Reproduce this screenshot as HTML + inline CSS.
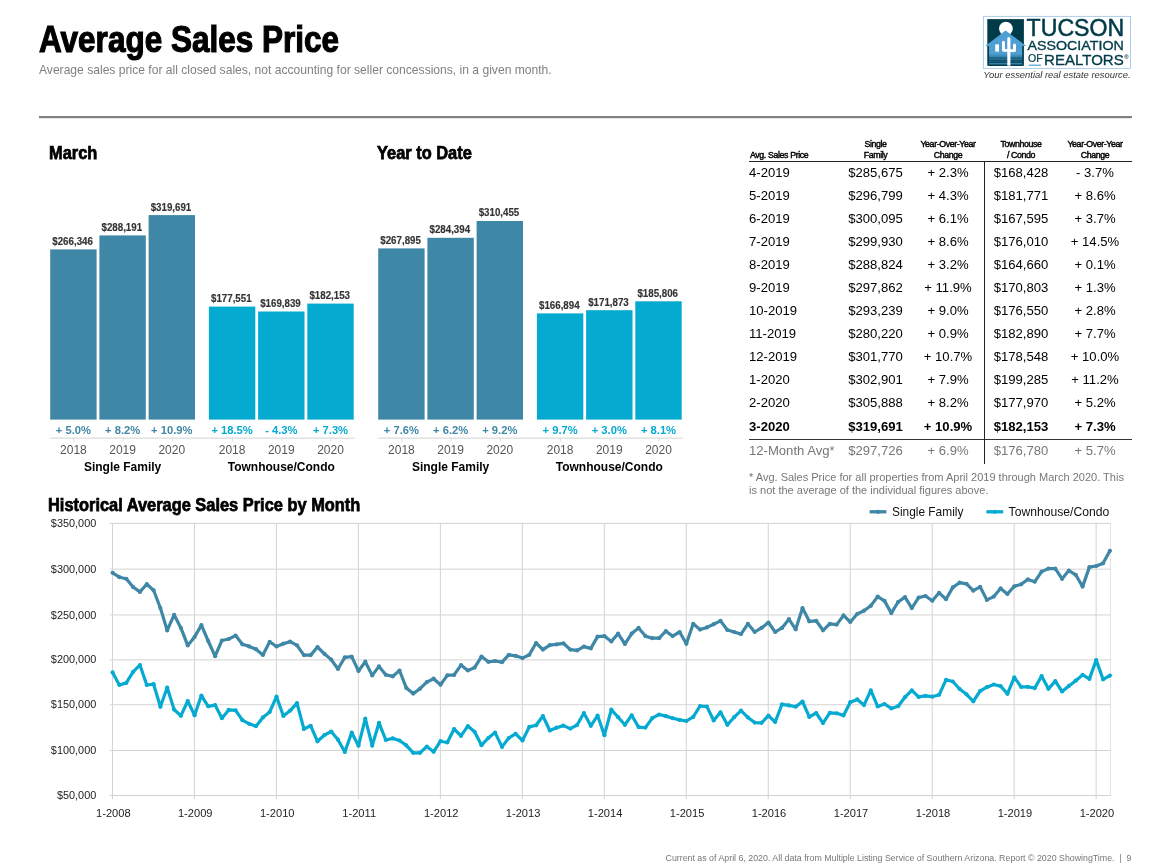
<!DOCTYPE html>
<html lang="en"><head><meta charset="utf-8"><title>Average Sales Price</title>
<style>
html,body{margin:0;padding:0;background:#fff;}
body{width:1161px;height:868px;position:relative;overflow:hidden;font-family:"Liberation Sans", Arial, Helvetica, sans-serif;color:#000;}
.abs{position:absolute;white-space:nowrap;}
.cond{font-weight:bold;transform-origin:0 0;display:inline-block;}
h1,h2,h3,p{margin:0;padding:0;font-weight:normal;}
#title{left:38.5px;top:14.5px;font-size:36.9px;line-height:50px;transform:scaleX(0.854);-webkit-text-stroke:1.2px #000;}
#subtitle{left:39px;top:62.8px;font-size:12.1px;line-height:14px;color:#808080;}
#rule{left:38.8px;top:116.15px;width:1092.9px;height:2.1px;background:#808080;}
.h2{font-size:18.6px;line-height:24px;transform:scaleX(0.882);-webkit-text-stroke:0.75px #000;}
#footer{right:29.5px;top:851.7px;font-size:8.82px;line-height:12px;color:#777;text-align:right;}
#footnote{left:749px;top:471.3px;font-size:11.03px;line-height:12.8px;color:#777;white-space:normal;width:381px;}
table{border-collapse:collapse;position:absolute;left:749px;top:136px;table-layout:fixed;width:383px;}
th{font-size:8.8px;line-height:10.5px;font-weight:normal;letter-spacing:-0.38px;vertical-align:bottom;padding:0 0 1px 0;text-align:center;-webkit-text-stroke:0.42px #000;}
th.l{padding-left:1px;}
th.l{text-align:left;}
td{font-size:13.1px;height:23px;line-height:23px;padding:0;text-align:center;white-space:nowrap;}
td.l{text-align:left;}
tr.b td{font-weight:bold;height:24px;line-height:25px;}
tr.g td{color:#777;height:24px;line-height:23.5px;}
svg text{font-family:"Liberation Sans", Arial, Helvetica, sans-serif;}

</style></head><body>
<h1 id="title" class="abs cond">Average Sales Price</h1>
<p id="subtitle" class="abs">Average sales price for all closed sales, not accounting for seller concessions, in a given month.</p>
<div id="rule" class="abs"></div><div class="abs" style="left:39px;top:118px;width:1092px;height:1px;background:#e2e2e2;"></div>
<h2 class="abs cond h2" style="left:49px;top:141.4px;">March</h2>
<h2 class="abs cond h2" style="left:377.3px;top:141.4px;">Year to Date</h2>
<h2 class="abs cond h2" style="left:48.3px;top:493px;">Historical Average Sales Price by Month</h2>
<svg class="abs" style="left:978px;top:10px;" width="160" height="75" viewBox="978 10 160 75">
<defs><linearGradient id="gnd" x1="0" y1="0" x2="0" y2="1"><stop offset="0" stop-color="#4f9fd2"/><stop offset="0.35" stop-color="#2f7ba3"/><stop offset="1" stop-color="#0b4a60"/></linearGradient></defs>
<rect x="983.3" y="16.3" width="147.3" height="52" fill="#fff" stroke="#8ab8dc" stroke-width="0.7"/>
<rect x="987.3" y="19.1" width="36.6" height="46.7" fill="#003b49"/>
<circle cx="1005.9" cy="28.6" r="6.9" fill="#fff"/>
<path d="M985.2 45.9 L1005.6 30.6 L1026.2 45.9 L1022.2 45.9 L1022.2 54 L989 54 L989 45.9 Z" fill="#4f9fd2"/>
<rect x="989" y="53.5" width="33.2" height="12.3" fill="url(#gnd)"/>
<rect x="989" y="57.6" width="33.2" height="0.9" fill="#0d4f66"/>
<rect x="989" y="60.2" width="33.2" height="1.0" fill="#0a4459"/>
<rect x="989" y="62.4" width="33.2" height="0.9" fill="#08404f"/>
<rect x="989" y="64.6" width="33.2" height="1.2" fill="#003b49"/>
<rect x="989" y="63.2" width="33.2" height="1.1" fill="#3f8fc4"/>
<rect x="995.2" y="44.4" width="3.8" height="7.2" fill="#fff"/>
<path d="M1007.3 65.8 L1007.3 38.6 Q1007.3 36.9 1008.85 36.9 Q1010.4 36.9 1010.4 38.6 L1010.4 49.3 L1013 49.3 L1013 45 Q1013 43.5 1014.5 43.5 Q1016 43.5 1016 45 L1016 50.2 Q1016 52.1 1014.2 52.1 L1010.4 52.1 L1010.4 65.8 Z M1007.3 51.8 L1003.9 51.8 Q1002 51.8 1002 49.9 L1002 42.2 Q1002 40.7 1003.45 40.7 Q1004.9 40.7 1004.9 42.2 L1004.9 49 L1007.3 49 Z" fill="#fff"/>
<text x="1026.6" y="36.4" font-size="23.2" stroke="#003b49" stroke-width="0.5" fill="#003b49" textLength="97.6" lengthAdjust="spacingAndGlyphs">TUCSON</text>
<text x="1027.5" y="49.8" font-size="13.4" stroke="#003b49" stroke-width="0.35" fill="#003b49" textLength="96.3" lengthAdjust="spacingAndGlyphs">ASSOCIATION</text>
<text x="1028" y="62.2" font-size="10.1" stroke="#003b49" stroke-width="0.2" fill="#003b49" textLength="14.6" lengthAdjust="spacingAndGlyphs">OF</text>
<rect x="1028.8" y="64.6" width="12.2" height="1.2" fill="#4f9fd2"/>
<text x="1044.1" y="65.4" font-size="15.3" stroke="#003b49" stroke-width="0.35" fill="#003b49" textLength="79.6" lengthAdjust="spacingAndGlyphs">REALTORS</text>
<text x="1124.2" y="59.2" font-size="6" font-weight="bold" fill="#003b49">®</text>
<text x="983.3" y="78" font-size="8.6" font-style="italic" fill="#333" textLength="147.3" lengthAdjust="spacingAndGlyphs">Your essential real estate resource.</text>
</svg>
<svg class="abs" style="left:0;top:180px;" width="720" height="300" viewBox="0 180 720 300">
<rect x="50.2" y="249.4" width="46.4" height="170.2" fill="#3f87a6"/>
<text x="72.6" y="244.8" font-size="10" font-weight="bold" fill="#333" stroke="#333" stroke-width="0.15" text-anchor="middle" textLength="40.6" lengthAdjust="spacingAndGlyphs">$266,346</text>
<text x="73.4" y="434.3" font-size="11.2" font-weight="bold" fill="#3f87a6" text-anchor="middle">+ 5.0%</text>
<text x="73.4" y="453.9" font-size="12" fill="#555" text-anchor="middle">2018</text>
<rect x="73.4" y="437.8" width="1" height="3.6" fill="#ddd"/>
<rect x="99.4" y="235.4" width="46.4" height="184.2" fill="#3f87a6"/>
<text x="121.8" y="230.8" font-size="10" font-weight="bold" fill="#333" stroke="#333" stroke-width="0.15" text-anchor="middle" textLength="40.6" lengthAdjust="spacingAndGlyphs">$288,191</text>
<text x="122.6" y="434.3" font-size="11.2" font-weight="bold" fill="#3f87a6" text-anchor="middle">+ 8.2%</text>
<text x="122.6" y="453.9" font-size="12" fill="#555" text-anchor="middle">2019</text>
<rect x="122.6" y="437.8" width="1" height="3.6" fill="#ddd"/>
<rect x="148.6" y="215.1" width="46.4" height="204.5" fill="#3f87a6"/>
<text x="171.0" y="210.5" font-size="10" font-weight="bold" fill="#333" stroke="#333" stroke-width="0.15" text-anchor="middle" textLength="40.6" lengthAdjust="spacingAndGlyphs">$319,691</text>
<text x="171.8" y="434.3" font-size="11.2" font-weight="bold" fill="#3f87a6" text-anchor="middle">+ 10.9%</text>
<text x="171.8" y="453.9" font-size="12" fill="#555" text-anchor="middle">2020</text>
<rect x="171.8" y="437.8" width="1" height="3.6" fill="#ddd"/>
<text x="122.6" y="471.4" font-size="12" font-weight="bold" fill="#000" text-anchor="middle">Single Family</text>
<rect x="208.9" y="306.6" width="46.4" height="113.0" fill="#05aad1"/>
<text x="231.3" y="302.0" font-size="10" font-weight="bold" fill="#333" stroke="#333" stroke-width="0.15" text-anchor="middle" textLength="40.6" lengthAdjust="spacingAndGlyphs">$177,551</text>
<text x="232.1" y="434.3" font-size="11.2" font-weight="bold" fill="#05aad1" text-anchor="middle">+ 18.5%</text>
<text x="232.1" y="453.9" font-size="12" fill="#555" text-anchor="middle">2018</text>
<rect x="232.1" y="437.8" width="1" height="3.6" fill="#ddd"/>
<rect x="258.1" y="311.5" width="46.4" height="108.1" fill="#05aad1"/>
<text x="280.5" y="306.9" font-size="10" font-weight="bold" fill="#333" stroke="#333" stroke-width="0.15" text-anchor="middle" textLength="40.6" lengthAdjust="spacingAndGlyphs">$169,839</text>
<text x="281.3" y="434.3" font-size="11.2" font-weight="bold" fill="#05aad1" text-anchor="middle">- 4.3%</text>
<text x="281.3" y="453.9" font-size="12" fill="#555" text-anchor="middle">2019</text>
<rect x="281.3" y="437.8" width="1" height="3.6" fill="#ddd"/>
<rect x="307.3" y="303.6" width="46.4" height="116.0" fill="#05aad1"/>
<text x="329.7" y="299.0" font-size="10" font-weight="bold" fill="#333" stroke="#333" stroke-width="0.15" text-anchor="middle" textLength="40.6" lengthAdjust="spacingAndGlyphs">$182,153</text>
<text x="330.5" y="434.3" font-size="11.2" font-weight="bold" fill="#05aad1" text-anchor="middle">+ 7.3%</text>
<text x="330.5" y="453.9" font-size="12" fill="#555" text-anchor="middle">2020</text>
<rect x="330.5" y="437.8" width="1" height="3.6" fill="#ddd"/>
<text x="281.3" y="471.4" font-size="12" font-weight="bold" fill="#000" text-anchor="middle">Townhouse/Condo</text>
<rect x="50.2" y="437.5" width="304" height="1.3" fill="#ddd"/>
<rect x="378.2" y="248.4" width="46.4" height="171.2" fill="#3f87a6"/>
<text x="400.6" y="243.8" font-size="10" font-weight="bold" fill="#333" stroke="#333" stroke-width="0.15" text-anchor="middle" textLength="40.6" lengthAdjust="spacingAndGlyphs">$267,895</text>
<text x="401.4" y="434.3" font-size="11.2" font-weight="bold" fill="#3f87a6" text-anchor="middle">+ 7.6%</text>
<text x="401.4" y="453.9" font-size="12" fill="#555" text-anchor="middle">2018</text>
<rect x="401.4" y="437.8" width="1" height="3.6" fill="#ddd"/>
<rect x="427.4" y="237.8" width="46.4" height="181.8" fill="#3f87a6"/>
<text x="449.8" y="233.2" font-size="10" font-weight="bold" fill="#333" stroke="#333" stroke-width="0.15" text-anchor="middle" textLength="40.6" lengthAdjust="spacingAndGlyphs">$284,394</text>
<text x="450.6" y="434.3" font-size="11.2" font-weight="bold" fill="#3f87a6" text-anchor="middle">+ 6.2%</text>
<text x="450.6" y="453.9" font-size="12" fill="#555" text-anchor="middle">2019</text>
<rect x="450.6" y="437.8" width="1" height="3.6" fill="#ddd"/>
<rect x="476.6" y="221.0" width="46.4" height="198.6" fill="#3f87a6"/>
<text x="499.0" y="216.4" font-size="10" font-weight="bold" fill="#333" stroke="#333" stroke-width="0.15" text-anchor="middle" textLength="40.6" lengthAdjust="spacingAndGlyphs">$310,455</text>
<text x="499.8" y="434.3" font-size="11.2" font-weight="bold" fill="#3f87a6" text-anchor="middle">+ 9.2%</text>
<text x="499.8" y="453.9" font-size="12" fill="#555" text-anchor="middle">2020</text>
<rect x="499.8" y="437.8" width="1" height="3.6" fill="#ddd"/>
<text x="450.6" y="471.4" font-size="12" font-weight="bold" fill="#000" text-anchor="middle">Single Family</text>
<rect x="536.9" y="313.4" width="46.4" height="106.2" fill="#05aad1"/>
<text x="559.3" y="308.8" font-size="10" font-weight="bold" fill="#333" stroke="#333" stroke-width="0.15" text-anchor="middle" textLength="40.6" lengthAdjust="spacingAndGlyphs">$166,894</text>
<text x="560.1" y="434.3" font-size="11.2" font-weight="bold" fill="#05aad1" text-anchor="middle">+ 9.7%</text>
<text x="560.1" y="453.9" font-size="12" fill="#555" text-anchor="middle">2018</text>
<rect x="560.1" y="437.8" width="1" height="3.6" fill="#ddd"/>
<rect x="586.1" y="310.2" width="46.4" height="109.4" fill="#05aad1"/>
<text x="608.5" y="305.6" font-size="10" font-weight="bold" fill="#333" stroke="#333" stroke-width="0.15" text-anchor="middle" textLength="40.6" lengthAdjust="spacingAndGlyphs">$171,873</text>
<text x="609.3" y="434.3" font-size="11.2" font-weight="bold" fill="#05aad1" text-anchor="middle">+ 3.0%</text>
<text x="609.3" y="453.9" font-size="12" fill="#555" text-anchor="middle">2019</text>
<rect x="609.3" y="437.8" width="1" height="3.6" fill="#ddd"/>
<rect x="635.3" y="301.3" width="46.4" height="118.3" fill="#05aad1"/>
<text x="657.7" y="296.7" font-size="10" font-weight="bold" fill="#333" stroke="#333" stroke-width="0.15" text-anchor="middle" textLength="40.6" lengthAdjust="spacingAndGlyphs">$185,806</text>
<text x="658.5" y="434.3" font-size="11.2" font-weight="bold" fill="#05aad1" text-anchor="middle">+ 8.1%</text>
<text x="658.5" y="453.9" font-size="12" fill="#555" text-anchor="middle">2020</text>
<rect x="658.5" y="437.8" width="1" height="3.6" fill="#ddd"/>
<text x="609.3" y="471.4" font-size="12" font-weight="bold" fill="#000" text-anchor="middle">Townhouse/Condo</text>
<rect x="378.2" y="437.5" width="304" height="1.3" fill="#ddd"/>
</svg>
<table>
<colgroup><col style="width:90px"><col style="width:73px"><col style="width:72px"><col style="width:74px"><col style="width:74px"></colgroup>
<thead><tr style="height:25px"><th class="l">Avg. Sales Price</th><th>Single<br>Family</th><th>Year-Over-Year<br>Change</th><th>Townhouse<br>/ Condo</th><th>Year-Over-Year<br>Change</th></tr></thead>
<tbody>
<tr><td class="l">4-2019</td><td>$285,675</td><td>+ 2.3%</td><td>$168,428</td><td>- 3.7%</td></tr>
<tr><td class="l">5-2019</td><td>$296,799</td><td>+ 4.3%</td><td>$181,771</td><td>+ 8.6%</td></tr>
<tr><td class="l">6-2019</td><td>$300,095</td><td>+ 6.1%</td><td>$167,595</td><td>+ 3.7%</td></tr>
<tr><td class="l">7-2019</td><td>$299,930</td><td>+ 8.6%</td><td>$176,010</td><td>+ 14.5%</td></tr>
<tr><td class="l">8-2019</td><td>$288,824</td><td>+ 3.2%</td><td>$164,660</td><td>+ 0.1%</td></tr>
<tr><td class="l">9-2019</td><td>$297,862</td><td>+ 11.9%</td><td>$170,803</td><td>+ 1.3%</td></tr>
<tr><td class="l">10-2019</td><td>$293,239</td><td>+ 9.0%</td><td>$176,550</td><td>+ 2.8%</td></tr>
<tr><td class="l">11-2019</td><td>$280,220</td><td>+ 0.9%</td><td>$182,890</td><td>+ 7.7%</td></tr>
<tr><td class="l">12-2019</td><td>$301,770</td><td>+ 10.7%</td><td>$178,548</td><td>+ 10.0%</td></tr>
<tr><td class="l">1-2020</td><td>$302,901</td><td>+ 7.9%</td><td>$199,285</td><td>+ 11.2%</td></tr>
<tr><td class="l">2-2020</td><td>$305,888</td><td>+ 8.2%</td><td>$177,970</td><td>+ 5.2%</td></tr>
<tr class="b"><td class="l">3-2020</td><td>$319,691</td><td>+ 10.9%</td><td>$182,153</td><td>+ 7.3%</td></tr>
<tr class="g"><td class="l">12-Month Avg*</td><td>$297,726</td><td>+ 6.9%</td><td>$176,780</td><td>+ 5.7%</td></tr>
</tbody></table>
<div class="abs" style="left:749px;top:161.3px;width:90px;height:1px;background:#222;"></div><div class="abs" style="left:838.5px;top:161.2px;width:293px;height:1.3px;background:#222;"></div>
<div class="abs" style="left:749px;top:438.5px;width:382.5px;height:1.5px;background:#333;"></div>
<div class="abs" style="left:983.7px;top:162px;width:1.3px;height:302px;background:#222;"></div>
<p id="footnote" class="abs">* Avg. Sales Price for all properties from April 2019 through March 2020. This is not the average of the individual figures above.</p>
<svg class="abs" style="left:0;top:500px;" width="1161" height="340" viewBox="0 500 1161 340">
<rect x="109.8" y="522.90" width="1001.1" height="1" fill="#d3d3d3"/>
<text x="96.3" y="526.9" font-size="10.9" fill="#222" text-anchor="end">$350,000</text>
<rect x="109.8" y="568.65" width="1001.1" height="1" fill="#d3d3d3"/>
<text x="96.3" y="572.6" font-size="10.9" fill="#222" text-anchor="end">$300,000</text>
<rect x="109.8" y="614.45" width="1001.1" height="1" fill="#d3d3d3"/>
<text x="96.3" y="618.5" font-size="10.9" fill="#222" text-anchor="end">$250,000</text>
<rect x="109.8" y="659.40" width="1001.1" height="1" fill="#d3d3d3"/>
<text x="96.3" y="663.4" font-size="10.9" fill="#222" text-anchor="end">$200,000</text>
<rect x="109.8" y="704.25" width="1001.1" height="1" fill="#d3d3d3"/>
<text x="96.3" y="708.2" font-size="10.9" fill="#222" text-anchor="end">$150,000</text>
<rect x="109.8" y="750.00" width="1001.1" height="1" fill="#d3d3d3"/>
<text x="96.3" y="754.0" font-size="10.9" fill="#222" text-anchor="end">$100,000</text>
<rect x="109.8" y="794.97" width="1001.1" height="1" fill="#d3d3d3"/>
<text x="96.3" y="799.0" font-size="10.9" fill="#222" text-anchor="end">$50,000</text>
<rect x="111.97" y="522.9" width="1" height="276.2" fill="#d3d3d3"/>
<text x="113.3" y="816.9" font-size="11.1" fill="#222" text-anchor="middle">1-2008</text>
<rect x="193.94" y="522.9" width="1" height="276.2" fill="#d3d3d3"/>
<text x="195.2" y="816.9" font-size="11.1" fill="#222" text-anchor="middle">1-2009</text>
<rect x="275.91" y="522.9" width="1" height="276.2" fill="#d3d3d3"/>
<text x="277.2" y="816.9" font-size="11.1" fill="#222" text-anchor="middle">1-2010</text>
<rect x="357.88" y="522.9" width="1" height="276.2" fill="#d3d3d3"/>
<text x="359.2" y="816.9" font-size="11.1" fill="#222" text-anchor="middle">1-2011</text>
<rect x="439.85" y="522.9" width="1" height="276.2" fill="#d3d3d3"/>
<text x="441.2" y="816.9" font-size="11.1" fill="#222" text-anchor="middle">1-2012</text>
<rect x="521.82" y="522.9" width="1" height="276.2" fill="#d3d3d3"/>
<text x="523.1" y="816.9" font-size="11.1" fill="#222" text-anchor="middle">1-2013</text>
<rect x="603.79" y="522.9" width="1" height="276.2" fill="#d3d3d3"/>
<text x="605.1" y="816.9" font-size="11.1" fill="#222" text-anchor="middle">1-2014</text>
<rect x="685.76" y="522.9" width="1" height="276.2" fill="#d3d3d3"/>
<text x="687.1" y="816.9" font-size="11.1" fill="#222" text-anchor="middle">1-2015</text>
<rect x="767.73" y="522.9" width="1" height="276.2" fill="#d3d3d3"/>
<text x="769.0" y="816.9" font-size="11.1" fill="#222" text-anchor="middle">1-2016</text>
<rect x="849.70" y="522.9" width="1" height="276.2" fill="#d3d3d3"/>
<text x="851.0" y="816.9" font-size="11.1" fill="#222" text-anchor="middle">1-2017</text>
<rect x="931.67" y="522.9" width="1" height="276.2" fill="#d3d3d3"/>
<text x="933.0" y="816.9" font-size="11.1" fill="#222" text-anchor="middle">1-2018</text>
<rect x="1013.64" y="522.9" width="1" height="276.2" fill="#d3d3d3"/>
<text x="1014.9" y="816.9" font-size="11.1" fill="#222" text-anchor="middle">1-2019</text>
<rect x="1095.61" y="522.9" width="1" height="276.2" fill="#d3d3d3"/>
<text x="1096.9" y="816.9" font-size="11.1" fill="#222" text-anchor="middle">1-2020</text>
<rect x="1110.00" y="522.9" width="0.8" height="273.1" fill="#dcdcdc"/>
<polyline points="112.6,572.8 119.4,577.2 126.3,578.8 133.1,587.0 139.9,591.9 146.8,584.2 153.6,590.3 160.4,608.0 167.2,630.4 174.1,614.8 180.9,627.9 187.7,645.4 194.6,636.9 201.4,625.1 208.2,641.0 215.1,656.2 221.9,640.5 228.7,639.0 235.6,635.6 242.4,644.3 249.2,646.4 256.0,649.2 262.9,654.9 269.7,641.8 276.5,646.5 283.4,643.7 290.2,641.6 297.0,645.3 303.9,655.1 310.7,655.1 317.5,647.0 324.4,653.8 331.2,659.6 338.0,669.0 344.8,657.4 351.7,656.6 358.5,671.0 365.3,661.7 372.2,675.4 379.0,666.4 385.8,674.8 392.7,676.4 399.5,670.5 406.3,687.9 413.2,693.6 420.0,688.7 426.8,682.1 433.6,678.7 440.5,684.7 447.3,675.4 454.1,674.9 461.0,665.1 467.8,670.5 474.6,667.6 481.5,656.6 488.3,661.8 495.1,661.0 502.0,662.2 508.8,654.8 515.6,655.8 522.5,658.1 529.3,654.8 536.1,643.0 542.9,649.6 549.8,645.1 556.6,644.3 563.4,643.3 570.3,649.6 577.1,650.4 583.9,646.6 590.8,648.4 597.6,636.6 604.4,636.1 611.3,641.5 618.1,633.6 624.9,644.0 631.7,633.6 638.6,627.9 645.4,636.1 652.2,638.2 659.1,638.2 665.9,631.2 672.7,636.1 679.6,632.0 686.4,643.8 693.2,623.8 700.1,629.6 706.9,627.4 713.7,624.2 720.5,620.9 727.4,630.0 734.2,632.0 741.0,634.1 747.9,623.8 754.7,632.0 761.5,627.9 768.4,622.5 775.2,632.0 782.0,627.9 788.9,619.2 795.7,629.3 802.5,608.1 809.3,621.3 816.2,620.8 823.0,630.3 829.8,623.8 836.7,624.6 843.5,615.4 850.3,622.0 857.2,614.0 864.0,610.7 870.8,605.8 877.7,596.6 884.5,600.9 891.3,613.1 898.1,602.0 905.0,597.1 911.8,608.1 918.6,597.6 925.5,596.0 932.3,600.7 939.1,592.8 946.0,599.2 952.8,587.4 959.6,582.7 966.5,583.8 973.3,590.7 980.1,586.8 986.9,599.9 993.8,596.6 1000.6,588.4 1007.4,594.0 1014.3,586.3 1021.1,584.3 1027.9,579.4 1034.8,581.7 1041.6,571.6 1048.4,568.6 1055.3,568.7 1062.1,578.8 1068.9,570.6 1075.7,574.8 1082.6,586.6 1089.4,567.1 1096.2,566.0 1103.1,563.3 1109.9,550.8" fill="none" stroke="#3f87a6" stroke-width="3.2" stroke-linejoin="round" stroke-linecap="round"/>
<g fill="#3f87a6"><circle cx="112.6" cy="572.8" r="2.1"/><circle cx="119.4" cy="577.2" r="2.1"/><circle cx="126.3" cy="578.8" r="2.1"/><circle cx="133.1" cy="587.0" r="2.1"/><circle cx="139.9" cy="591.9" r="2.1"/><circle cx="146.8" cy="584.2" r="2.1"/><circle cx="153.6" cy="590.3" r="2.1"/><circle cx="160.4" cy="608.0" r="2.1"/><circle cx="167.2" cy="630.4" r="2.1"/><circle cx="174.1" cy="614.8" r="2.1"/><circle cx="180.9" cy="627.9" r="2.1"/><circle cx="187.7" cy="645.4" r="2.1"/><circle cx="194.6" cy="636.9" r="2.1"/><circle cx="201.4" cy="625.1" r="2.1"/><circle cx="208.2" cy="641.0" r="2.1"/><circle cx="215.1" cy="656.2" r="2.1"/><circle cx="221.9" cy="640.5" r="2.1"/><circle cx="228.7" cy="639.0" r="2.1"/><circle cx="235.6" cy="635.6" r="2.1"/><circle cx="242.4" cy="644.3" r="2.1"/><circle cx="249.2" cy="646.4" r="2.1"/><circle cx="256.0" cy="649.2" r="2.1"/><circle cx="262.9" cy="654.9" r="2.1"/><circle cx="269.7" cy="641.8" r="2.1"/><circle cx="276.5" cy="646.5" r="2.1"/><circle cx="283.4" cy="643.7" r="2.1"/><circle cx="290.2" cy="641.6" r="2.1"/><circle cx="297.0" cy="645.3" r="2.1"/><circle cx="303.9" cy="655.1" r="2.1"/><circle cx="310.7" cy="655.1" r="2.1"/><circle cx="317.5" cy="647.0" r="2.1"/><circle cx="324.4" cy="653.8" r="2.1"/><circle cx="331.2" cy="659.6" r="2.1"/><circle cx="338.0" cy="669.0" r="2.1"/><circle cx="344.8" cy="657.4" r="2.1"/><circle cx="351.7" cy="656.6" r="2.1"/><circle cx="358.5" cy="671.0" r="2.1"/><circle cx="365.3" cy="661.7" r="2.1"/><circle cx="372.2" cy="675.4" r="2.1"/><circle cx="379.0" cy="666.4" r="2.1"/><circle cx="385.8" cy="674.8" r="2.1"/><circle cx="392.7" cy="676.4" r="2.1"/><circle cx="399.5" cy="670.5" r="2.1"/><circle cx="406.3" cy="687.9" r="2.1"/><circle cx="413.2" cy="693.6" r="2.1"/><circle cx="420.0" cy="688.7" r="2.1"/><circle cx="426.8" cy="682.1" r="2.1"/><circle cx="433.6" cy="678.7" r="2.1"/><circle cx="440.5" cy="684.7" r="2.1"/><circle cx="447.3" cy="675.4" r="2.1"/><circle cx="454.1" cy="674.9" r="2.1"/><circle cx="461.0" cy="665.1" r="2.1"/><circle cx="467.8" cy="670.5" r="2.1"/><circle cx="474.6" cy="667.6" r="2.1"/><circle cx="481.5" cy="656.6" r="2.1"/><circle cx="488.3" cy="661.8" r="2.1"/><circle cx="495.1" cy="661.0" r="2.1"/><circle cx="502.0" cy="662.2" r="2.1"/><circle cx="508.8" cy="654.8" r="2.1"/><circle cx="515.6" cy="655.8" r="2.1"/><circle cx="522.5" cy="658.1" r="2.1"/><circle cx="529.3" cy="654.8" r="2.1"/><circle cx="536.1" cy="643.0" r="2.1"/><circle cx="542.9" cy="649.6" r="2.1"/><circle cx="549.8" cy="645.1" r="2.1"/><circle cx="556.6" cy="644.3" r="2.1"/><circle cx="563.4" cy="643.3" r="2.1"/><circle cx="570.3" cy="649.6" r="2.1"/><circle cx="577.1" cy="650.4" r="2.1"/><circle cx="583.9" cy="646.6" r="2.1"/><circle cx="590.8" cy="648.4" r="2.1"/><circle cx="597.6" cy="636.6" r="2.1"/><circle cx="604.4" cy="636.1" r="2.1"/><circle cx="611.3" cy="641.5" r="2.1"/><circle cx="618.1" cy="633.6" r="2.1"/><circle cx="624.9" cy="644.0" r="2.1"/><circle cx="631.7" cy="633.6" r="2.1"/><circle cx="638.6" cy="627.9" r="2.1"/><circle cx="645.4" cy="636.1" r="2.1"/><circle cx="652.2" cy="638.2" r="2.1"/><circle cx="659.1" cy="638.2" r="2.1"/><circle cx="665.9" cy="631.2" r="2.1"/><circle cx="672.7" cy="636.1" r="2.1"/><circle cx="679.6" cy="632.0" r="2.1"/><circle cx="686.4" cy="643.8" r="2.1"/><circle cx="693.2" cy="623.8" r="2.1"/><circle cx="700.1" cy="629.6" r="2.1"/><circle cx="706.9" cy="627.4" r="2.1"/><circle cx="713.7" cy="624.2" r="2.1"/><circle cx="720.5" cy="620.9" r="2.1"/><circle cx="727.4" cy="630.0" r="2.1"/><circle cx="734.2" cy="632.0" r="2.1"/><circle cx="741.0" cy="634.1" r="2.1"/><circle cx="747.9" cy="623.8" r="2.1"/><circle cx="754.7" cy="632.0" r="2.1"/><circle cx="761.5" cy="627.9" r="2.1"/><circle cx="768.4" cy="622.5" r="2.1"/><circle cx="775.2" cy="632.0" r="2.1"/><circle cx="782.0" cy="627.9" r="2.1"/><circle cx="788.9" cy="619.2" r="2.1"/><circle cx="795.7" cy="629.3" r="2.1"/><circle cx="802.5" cy="608.1" r="2.1"/><circle cx="809.3" cy="621.3" r="2.1"/><circle cx="816.2" cy="620.8" r="2.1"/><circle cx="823.0" cy="630.3" r="2.1"/><circle cx="829.8" cy="623.8" r="2.1"/><circle cx="836.7" cy="624.6" r="2.1"/><circle cx="843.5" cy="615.4" r="2.1"/><circle cx="850.3" cy="622.0" r="2.1"/><circle cx="857.2" cy="614.0" r="2.1"/><circle cx="864.0" cy="610.7" r="2.1"/><circle cx="870.8" cy="605.8" r="2.1"/><circle cx="877.7" cy="596.6" r="2.1"/><circle cx="884.5" cy="600.9" r="2.1"/><circle cx="891.3" cy="613.1" r="2.1"/><circle cx="898.1" cy="602.0" r="2.1"/><circle cx="905.0" cy="597.1" r="2.1"/><circle cx="911.8" cy="608.1" r="2.1"/><circle cx="918.6" cy="597.6" r="2.1"/><circle cx="925.5" cy="596.0" r="2.1"/><circle cx="932.3" cy="600.7" r="2.1"/><circle cx="939.1" cy="592.8" r="2.1"/><circle cx="946.0" cy="599.2" r="2.1"/><circle cx="952.8" cy="587.4" r="2.1"/><circle cx="959.6" cy="582.7" r="2.1"/><circle cx="966.5" cy="583.8" r="2.1"/><circle cx="973.3" cy="590.7" r="2.1"/><circle cx="980.1" cy="586.8" r="2.1"/><circle cx="986.9" cy="599.9" r="2.1"/><circle cx="993.8" cy="596.6" r="2.1"/><circle cx="1000.6" cy="588.4" r="2.1"/><circle cx="1007.4" cy="594.0" r="2.1"/><circle cx="1014.3" cy="586.3" r="2.1"/><circle cx="1021.1" cy="584.3" r="2.1"/><circle cx="1027.9" cy="579.4" r="2.1"/><circle cx="1034.8" cy="581.7" r="2.1"/><circle cx="1041.6" cy="571.6" r="2.1"/><circle cx="1048.4" cy="568.6" r="2.1"/><circle cx="1055.3" cy="568.7" r="2.1"/><circle cx="1062.1" cy="578.8" r="2.1"/><circle cx="1068.9" cy="570.6" r="2.1"/><circle cx="1075.7" cy="574.8" r="2.1"/><circle cx="1082.6" cy="586.6" r="2.1"/><circle cx="1089.4" cy="567.1" r="2.1"/><circle cx="1096.2" cy="566.0" r="2.1"/><circle cx="1103.1" cy="563.3" r="2.1"/><circle cx="1109.9" cy="550.8" r="2.1"/></g>
<polyline points="112.6,672.4 119.4,685.0 126.3,682.9 133.1,671.9 139.9,665.0 146.8,685.0 153.6,684.2 160.4,706.8 167.2,687.5 174.1,709.6 180.9,715.8 187.7,701.0 194.6,715.3 201.4,695.6 208.2,706.3 215.1,705.1 221.9,718.2 228.7,709.9 235.6,710.4 242.4,720.2 249.2,723.8 256.0,726.2 262.9,717.4 269.7,712.0 276.5,696.6 283.4,716.0 290.2,710.6 297.0,703.2 303.9,729.0 310.7,725.8 317.5,741.3 324.4,735.1 331.2,731.5 338.0,739.7 344.8,752.0 351.7,732.6 358.5,745.7 365.3,718.7 372.2,745.7 379.0,722.8 385.8,740.0 392.7,738.4 399.5,740.5 406.3,745.4 413.2,752.8 420.0,752.8 426.8,746.6 433.6,751.8 440.5,741.2 447.3,742.5 454.1,729.0 461.0,735.9 467.8,726.1 474.6,731.8 481.5,745.2 488.3,738.0 495.1,732.6 502.0,746.9 508.8,738.0 515.6,733.8 522.5,740.5 529.3,726.9 536.1,725.3 542.9,716.0 549.8,730.5 556.6,727.7 563.4,725.6 570.3,728.6 577.1,725.0 583.9,713.0 590.8,725.8 597.6,715.6 604.4,735.2 611.3,709.6 618.1,717.2 624.9,724.8 631.7,715.3 638.6,727.1 645.4,727.6 652.2,718.2 659.1,714.5 665.9,716.1 672.7,718.2 679.6,719.9 686.4,721.0 693.2,716.9 700.1,706.0 706.9,706.6 713.7,720.5 720.5,712.3 727.4,724.8 734.2,717.2 741.0,710.7 747.9,717.4 754.7,722.6 761.5,722.8 768.4,715.7 775.2,722.0 782.0,704.3 788.9,705.4 795.7,706.7 802.5,701.5 809.3,716.9 816.2,713.0 823.0,723.1 829.8,712.8 836.7,713.3 843.5,715.4 850.3,702.2 857.2,699.4 864.0,705.1 870.8,690.4 877.7,706.4 884.5,704.0 891.3,708.4 898.1,706.2 905.0,697.2 911.8,690.4 918.6,696.9 925.5,695.8 932.3,696.7 939.1,694.8 946.0,679.8 952.8,681.5 959.6,689.0 966.5,694.3 973.3,701.3 980.1,691.0 986.9,687.2 993.8,684.5 1000.6,686.1 1007.4,693.8 1014.3,677.4 1021.1,686.9 1027.9,686.8 1034.8,688.1 1041.6,676.0 1048.4,688.8 1055.3,681.2 1062.1,691.5 1068.9,685.9 1075.7,680.7 1082.6,674.9 1089.4,678.9 1096.2,660.1 1103.1,679.4 1109.9,675.6" fill="none" stroke="#05aad1" stroke-width="3.2" stroke-linejoin="round" stroke-linecap="round"/>
<g fill="#05aad1"><circle cx="112.6" cy="672.4" r="2.1"/><circle cx="119.4" cy="685.0" r="2.1"/><circle cx="126.3" cy="682.9" r="2.1"/><circle cx="133.1" cy="671.9" r="2.1"/><circle cx="139.9" cy="665.0" r="2.1"/><circle cx="146.8" cy="685.0" r="2.1"/><circle cx="153.6" cy="684.2" r="2.1"/><circle cx="160.4" cy="706.8" r="2.1"/><circle cx="167.2" cy="687.5" r="2.1"/><circle cx="174.1" cy="709.6" r="2.1"/><circle cx="180.9" cy="715.8" r="2.1"/><circle cx="187.7" cy="701.0" r="2.1"/><circle cx="194.6" cy="715.3" r="2.1"/><circle cx="201.4" cy="695.6" r="2.1"/><circle cx="208.2" cy="706.3" r="2.1"/><circle cx="215.1" cy="705.1" r="2.1"/><circle cx="221.9" cy="718.2" r="2.1"/><circle cx="228.7" cy="709.9" r="2.1"/><circle cx="235.6" cy="710.4" r="2.1"/><circle cx="242.4" cy="720.2" r="2.1"/><circle cx="249.2" cy="723.8" r="2.1"/><circle cx="256.0" cy="726.2" r="2.1"/><circle cx="262.9" cy="717.4" r="2.1"/><circle cx="269.7" cy="712.0" r="2.1"/><circle cx="276.5" cy="696.6" r="2.1"/><circle cx="283.4" cy="716.0" r="2.1"/><circle cx="290.2" cy="710.6" r="2.1"/><circle cx="297.0" cy="703.2" r="2.1"/><circle cx="303.9" cy="729.0" r="2.1"/><circle cx="310.7" cy="725.8" r="2.1"/><circle cx="317.5" cy="741.3" r="2.1"/><circle cx="324.4" cy="735.1" r="2.1"/><circle cx="331.2" cy="731.5" r="2.1"/><circle cx="338.0" cy="739.7" r="2.1"/><circle cx="344.8" cy="752.0" r="2.1"/><circle cx="351.7" cy="732.6" r="2.1"/><circle cx="358.5" cy="745.7" r="2.1"/><circle cx="365.3" cy="718.7" r="2.1"/><circle cx="372.2" cy="745.7" r="2.1"/><circle cx="379.0" cy="722.8" r="2.1"/><circle cx="385.8" cy="740.0" r="2.1"/><circle cx="392.7" cy="738.4" r="2.1"/><circle cx="399.5" cy="740.5" r="2.1"/><circle cx="406.3" cy="745.4" r="2.1"/><circle cx="413.2" cy="752.8" r="2.1"/><circle cx="420.0" cy="752.8" r="2.1"/><circle cx="426.8" cy="746.6" r="2.1"/><circle cx="433.6" cy="751.8" r="2.1"/><circle cx="440.5" cy="741.2" r="2.1"/><circle cx="447.3" cy="742.5" r="2.1"/><circle cx="454.1" cy="729.0" r="2.1"/><circle cx="461.0" cy="735.9" r="2.1"/><circle cx="467.8" cy="726.1" r="2.1"/><circle cx="474.6" cy="731.8" r="2.1"/><circle cx="481.5" cy="745.2" r="2.1"/><circle cx="488.3" cy="738.0" r="2.1"/><circle cx="495.1" cy="732.6" r="2.1"/><circle cx="502.0" cy="746.9" r="2.1"/><circle cx="508.8" cy="738.0" r="2.1"/><circle cx="515.6" cy="733.8" r="2.1"/><circle cx="522.5" cy="740.5" r="2.1"/><circle cx="529.3" cy="726.9" r="2.1"/><circle cx="536.1" cy="725.3" r="2.1"/><circle cx="542.9" cy="716.0" r="2.1"/><circle cx="549.8" cy="730.5" r="2.1"/><circle cx="556.6" cy="727.7" r="2.1"/><circle cx="563.4" cy="725.6" r="2.1"/><circle cx="570.3" cy="728.6" r="2.1"/><circle cx="577.1" cy="725.0" r="2.1"/><circle cx="583.9" cy="713.0" r="2.1"/><circle cx="590.8" cy="725.8" r="2.1"/><circle cx="597.6" cy="715.6" r="2.1"/><circle cx="604.4" cy="735.2" r="2.1"/><circle cx="611.3" cy="709.6" r="2.1"/><circle cx="618.1" cy="717.2" r="2.1"/><circle cx="624.9" cy="724.8" r="2.1"/><circle cx="631.7" cy="715.3" r="2.1"/><circle cx="638.6" cy="727.1" r="2.1"/><circle cx="645.4" cy="727.6" r="2.1"/><circle cx="652.2" cy="718.2" r="2.1"/><circle cx="659.1" cy="714.5" r="2.1"/><circle cx="665.9" cy="716.1" r="2.1"/><circle cx="672.7" cy="718.2" r="2.1"/><circle cx="679.6" cy="719.9" r="2.1"/><circle cx="686.4" cy="721.0" r="2.1"/><circle cx="693.2" cy="716.9" r="2.1"/><circle cx="700.1" cy="706.0" r="2.1"/><circle cx="706.9" cy="706.6" r="2.1"/><circle cx="713.7" cy="720.5" r="2.1"/><circle cx="720.5" cy="712.3" r="2.1"/><circle cx="727.4" cy="724.8" r="2.1"/><circle cx="734.2" cy="717.2" r="2.1"/><circle cx="741.0" cy="710.7" r="2.1"/><circle cx="747.9" cy="717.4" r="2.1"/><circle cx="754.7" cy="722.6" r="2.1"/><circle cx="761.5" cy="722.8" r="2.1"/><circle cx="768.4" cy="715.7" r="2.1"/><circle cx="775.2" cy="722.0" r="2.1"/><circle cx="782.0" cy="704.3" r="2.1"/><circle cx="788.9" cy="705.4" r="2.1"/><circle cx="795.7" cy="706.7" r="2.1"/><circle cx="802.5" cy="701.5" r="2.1"/><circle cx="809.3" cy="716.9" r="2.1"/><circle cx="816.2" cy="713.0" r="2.1"/><circle cx="823.0" cy="723.1" r="2.1"/><circle cx="829.8" cy="712.8" r="2.1"/><circle cx="836.7" cy="713.3" r="2.1"/><circle cx="843.5" cy="715.4" r="2.1"/><circle cx="850.3" cy="702.2" r="2.1"/><circle cx="857.2" cy="699.4" r="2.1"/><circle cx="864.0" cy="705.1" r="2.1"/><circle cx="870.8" cy="690.4" r="2.1"/><circle cx="877.7" cy="706.4" r="2.1"/><circle cx="884.5" cy="704.0" r="2.1"/><circle cx="891.3" cy="708.4" r="2.1"/><circle cx="898.1" cy="706.2" r="2.1"/><circle cx="905.0" cy="697.2" r="2.1"/><circle cx="911.8" cy="690.4" r="2.1"/><circle cx="918.6" cy="696.9" r="2.1"/><circle cx="925.5" cy="695.8" r="2.1"/><circle cx="932.3" cy="696.7" r="2.1"/><circle cx="939.1" cy="694.8" r="2.1"/><circle cx="946.0" cy="679.8" r="2.1"/><circle cx="952.8" cy="681.5" r="2.1"/><circle cx="959.6" cy="689.0" r="2.1"/><circle cx="966.5" cy="694.3" r="2.1"/><circle cx="973.3" cy="701.3" r="2.1"/><circle cx="980.1" cy="691.0" r="2.1"/><circle cx="986.9" cy="687.2" r="2.1"/><circle cx="993.8" cy="684.5" r="2.1"/><circle cx="1000.6" cy="686.1" r="2.1"/><circle cx="1007.4" cy="693.8" r="2.1"/><circle cx="1014.3" cy="677.4" r="2.1"/><circle cx="1021.1" cy="686.9" r="2.1"/><circle cx="1027.9" cy="686.8" r="2.1"/><circle cx="1034.8" cy="688.1" r="2.1"/><circle cx="1041.6" cy="676.0" r="2.1"/><circle cx="1048.4" cy="688.8" r="2.1"/><circle cx="1055.3" cy="681.2" r="2.1"/><circle cx="1062.1" cy="691.5" r="2.1"/><circle cx="1068.9" cy="685.9" r="2.1"/><circle cx="1075.7" cy="680.7" r="2.1"/><circle cx="1082.6" cy="674.9" r="2.1"/><circle cx="1089.4" cy="678.9" r="2.1"/><circle cx="1096.2" cy="660.1" r="2.1"/><circle cx="1103.1" cy="679.4" r="2.1"/><circle cx="1109.9" cy="675.6" r="2.1"/></g>
<line x1="869.6" y1="511.8" x2="886.4" y2="511.8" stroke="#3f87a6" stroke-width="3.3"/><circle cx="878" cy="511.8" r="2.1" fill="#3f87a6"/>
<text x="892" y="515.8" font-size="11.9" fill="#111">Single Family</text>
<line x1="986.4" y1="511.8" x2="1003.2" y2="511.8" stroke="#05aad1" stroke-width="3.3"/><circle cx="994.8" cy="511.8" r="2.1" fill="#05aad1"/>
<text x="1008.6" y="515.8" font-size="12.15" fill="#111">Townhouse/Condo</text>
</svg>
<p id="footer" class="abs">Current as of April 6, 2020. All data from Multiple Listing Service of Southern Arizona. Report © 2020 ShowingTime. &nbsp;|&nbsp; 9</p>
</body></html>
